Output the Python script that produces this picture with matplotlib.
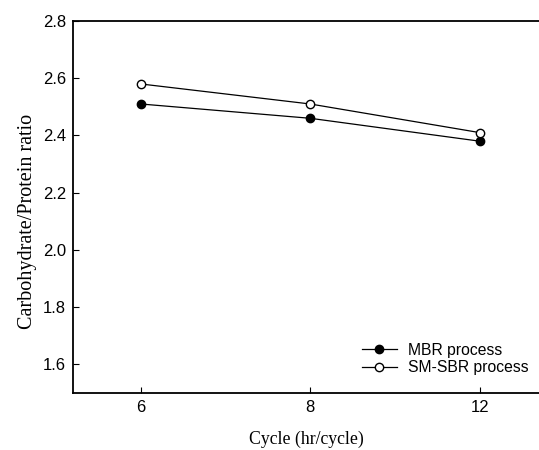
import matplotlib
matplotlib.use('Agg')
import matplotlib.pyplot as plt

cycles = ['6', '8', '12']
mbr = [2.51, 2.46, 2.38]
smsbr = [2.58, 2.51, 2.41]

fig = plt.figure(figsize=(5.39, 4.5), dpi=100)
ax = fig.add_axes([73/539, 57/450, 1 - 73/539, (393-21)/450])

xs = range(len(cycles))
ax.plot(xs, mbr, color='black', lw=0.9, marker='o', ms=6, mfc='black', mec='black', label='MBR process')
ax.plot(xs, smsbr, color='black', lw=0.9, marker='o', ms=6, mfc='white', mec='black', label='SM-SBR process')

ax.set_xlim(-0.4, 2.35)
ax.set_ylim(1.5, 2.8)
ax.set_xticks(list(xs))
ax.set_xticklabels(cycles)
ax.set_yticks([1.6, 1.8, 2.0, 2.2, 2.4, 2.6, 2.8])
ax.set_yticklabels(['1.6', '1.8', '2.0', '2.2', '2.4', '2.6', '2.8'])
ax.spines['right'].set_visible(False)
for s in ['left', 'bottom', 'top']:
    ax.spines[s].set_linewidth(1.3)
ax.tick_params(direction='in', length=4, width=0.8, labelsize=12, pad=5)
for lab in ax.get_xticklabels() + ax.get_yticklabels():
    lab.set_family('Liberation Sans')

ax.set_xlabel('Cycle (hr/cycle)', family='Liberation Serif', fontsize=12.8, labelpad=11)
ax.set_ylabel('Carbohydrate/Protein ratio', family='Liberation Serif', fontsize=14.5)
ax.yaxis.set_label_coords(-0.078, 0.462)

leg = ax.legend(loc='lower right', bbox_to_anchor=(1.007, 0.01), frameon=False,
                prop={'family': 'Liberation Sans', 'size': 11.3}, handlelength=2.2,
                labelspacing=0.15, handletextpad=0.7)

fig.savefig('out.png', dpi=100)
